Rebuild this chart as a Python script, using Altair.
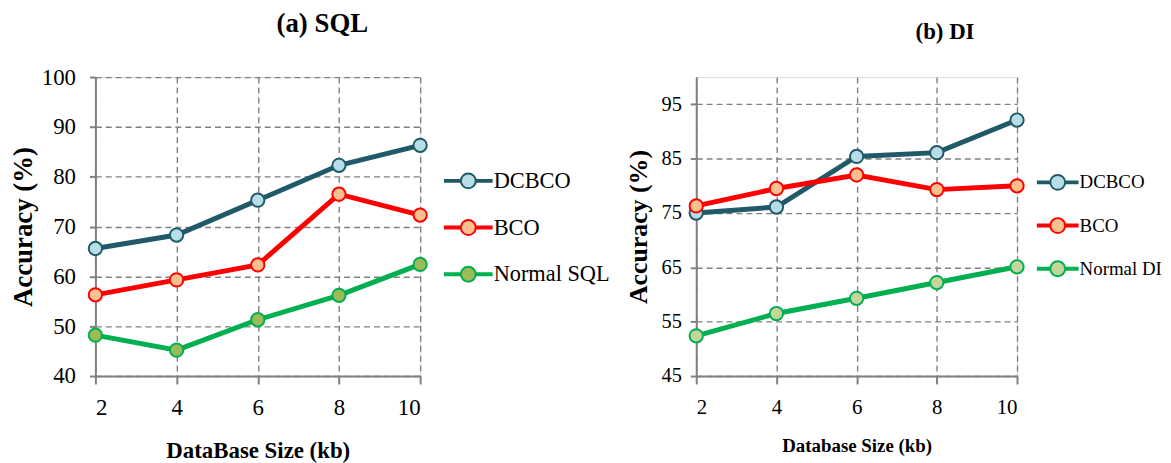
import altair as alt
import pandas as pd

# ---------------- data ----------------
x_vals = [2, 4, 6, 8, 10]

series_sql = ["DCBCO", "BCO", "Normal SQL"]
sql_dcbco = [65.6, 68.3, 75.3, 82.3, 86.3]
sql_bco = [56.3, 59.3, 62.3, 76.5, 72.3]
sql_normal = [48.2, 45.2, 51.3, 56.2, 62.4]

series_di = ["DCBCO", "BCO", "Normal DI"]
di_dcbco = [75.0, 76.1, 85.4, 86.1, 92.1]
di_bco = [76.3, 79.5, 82.0, 79.3, 80.0]
di_normal = [52.4, 56.5, 59.3, 62.2, 65.1]

sql_yticks = [40, 50, 60, 70, 80, 90, 100]
di_yticks = [45, 55, 65, 75, 85, 95]

line_colors = ["#215968", "#ff0000", "#00b050"]
fill_sql = ["#b7dee8", "#fac090", "#9bbb59"]
fill_di = ["#b7dee8", "#fac090", "#c3d69b"]

FONT = "Liberation Serif"


def legend_path(half_w, r_px, bar_px=1.0):
    r = round(r_px / half_w, 4)
    b = round(bar_px / half_w, 4)
    return (
        f"M-1,{-b}H{-r}V{b}H-1Z "
        f"M{r},{-b}H1V{b}H{r}Z "
        f"M{r},0A{r},{r} 0 1,1 {-r},0A{r},{r} 0 1,1 {r},0Z"
    )


def panel(title, series, values, fills, ydomain, yticks, xtitle, w, h, fs):
    df = pd.DataFrame({
        "size": x_vals * len(series),
        "acc": [v for vals in values for v in vals],
        "series": [s for s in series for _ in x_vals],
    })
    x = alt.X(
        "size:Q",
        scale=alt.Scale(domain=[2, 10], nice=False, zero=False),
        axis=alt.Axis(
            values=x_vals, title=xtitle, format="d",
            labelFontSize=fs["xlab"], titleFontSize=fs["xtitle"],
            tickSize=8, labelPadding=fs["xlp"], titlePadding=fs["xtp"],
        ),
    )
    y = alt.Y(
        "acc:Q",
        scale=alt.Scale(domain=ydomain, nice=False, zero=False),
        axis=alt.Axis(
            values=yticks, title="Accuracy (%)", format="d",
            labelFontSize=fs["ylab"], titleFontSize=fs["ytitle"],
            tickSize=fs["yts"], labelPadding=fs["ylp"], titlePadding=fs["ytp"],
        ),
    )
    stroke_scale = alt.Scale(domain=series, range=line_colors)
    fill_scale = alt.Scale(domain=series, range=fills)
    half_w = fs["legw"] / 2
    leg = alt.Legend(
        title=None, orient="none", legendX=fs["legx"], legendY=fs["legy"],
        symbolType=legend_path(half_w, 7.5), symbolSize=fs["legw"] ** 2,
        labelFont=FONT, labelFontSize=fs["leglab"], labelColor="black",
        labelOffset=1, rowPadding=fs["legrp"], padding=0, symbolStrokeWidth=2,
    )
    lines = alt.Chart(df).mark_line(strokeWidth=5).encode(
        x=x, y=y,
        stroke=alt.Stroke("series:N", scale=stroke_scale, legend=leg),
    )
    points = alt.Chart(df).mark_circle(size=180, strokeWidth=2, opacity=1).encode(
        x=x, y=y,
        stroke=alt.Stroke("series:N", scale=stroke_scale, legend=leg),
        fill=alt.Fill("series:N", scale=fill_scale, legend=leg),
    )
    return alt.layer(lines, points).properties(
        width=w, height=h,
        title=alt.TitleParams(
            title, font=FONT, fontSize=fs["title"], fontWeight="bold",
            color="black", anchor="middle", dx=fs["tdx"], offset=fs["toff"],
        ),
    )


left = panel(
    "(a) SQL", series_sql, [sql_dcbco, sql_bco, sql_normal], fill_sql,
    [40, 100], sql_yticks, "DataBase Size (kb)", 327, 301,
    dict(xlab=23, xtitle=23, ylab=23, ytitle=27, yts=6, ylp=14, ytp=4,
         xlp=13, xtp=20, legw=47, legx=351, legy=80, leglab=22.5, legrp=11,
         title=27, tdx=65, toff=28),
)
right = panel(
    "(b) DI", series_di, [di_dcbco, di_bco, di_normal], fill_di,
    [45, 100], di_yticks, "Database Size (kb)", 323, 301,
    dict(xlab=21, xtitle=19, ylab=20.5, ytitle=26, yts=6, ylp=9, ytp=10,
         xlp=13, xtp=19, legw=40, legx=343, legy=85, leglab=19, legrp=10.5,
         title=23, tdx=89, toff=33),
)

chart = (
    alt.hconcat(left, right, spacing=278, bounds="flush")
    .resolve_scale(stroke="independent", fill="independent", y="independent", x="independent")
    .resolve_legend(stroke="independent", fill="independent")
    .properties(padding={"left": 1, "top": 0, "right": 0, "bottom": 0})
    .configure_view(stroke=None)
    .configure(background="white")
    .configure_axis(
        labelFont=FONT, titleFont=FONT, titleFontWeight="bold",
        labelColor="black", titleColor="black",
        domainColor="#808080", domainWidth=2,
        tickColor="#808080", tickWidth=2,
        gridColor="#808080", gridDash=[6, 4], gridWidth=1.4, gridOpacity=1,
    )
)

chart.save("out.html", embed_options={"renderer": "svg", "actions": False})
